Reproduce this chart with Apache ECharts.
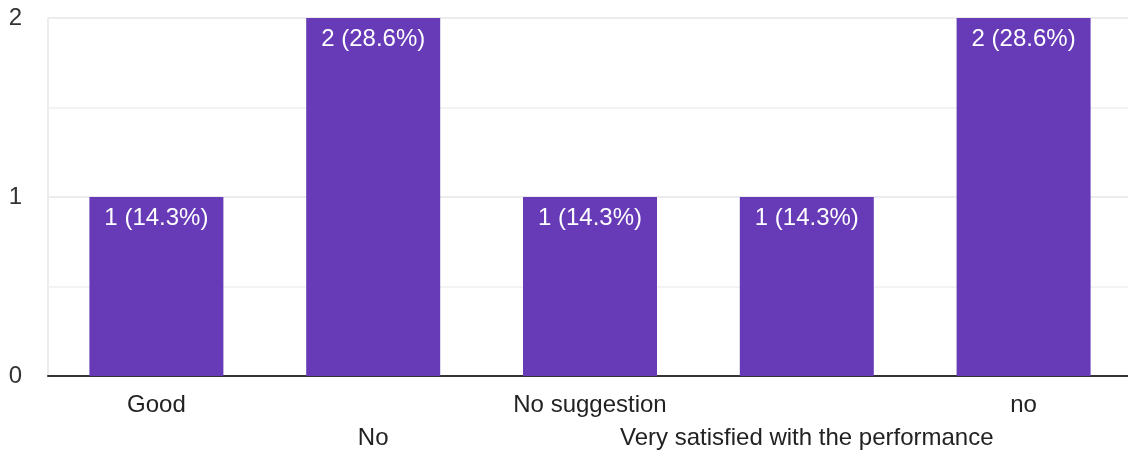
<!DOCTYPE html>
<html><head><meta charset="utf-8">
<script src="https://cdn.jsdelivr.net/npm/echarts@6/dist/echarts.min.js"></script>
<style>html,body{margin:0;padding:0;background:#fff}#c{width:1128px;height:452px}</style>
</head><body><div id="c"></div>
<script>
const categories = ["Good", "No", "No suggestion", "Very satisfied with the performance", "no"];
const counts = [1, 2, 1, 1, 2];
const percents = ["14.3%", "28.6%", "14.3%", "14.3%", "28.6%"];
const yTicks = [0, 1, 2];

const FONT = '"Liberation Sans", Arial, sans-serif';
const chart = echarts.init(document.getElementById('c'));
chart.setOption({
  animation: false,
  grid: {left: 48, right: -4, top: 18, bottom: 76, containLabel: false, outerBoundsMode: 'none'},
  xAxis: {
    type: 'category', data: categories,
    axisLine: {lineStyle: {color: '#333', width: 2}},
    axisTick: {show: false},
    axisLabel: {
      interval: 0, fontFamily: FONT, fontSize: 24, color: '#222', margin: 13, lineHeight: 33,
      hideOverlap: false,
      formatter: (v, i) => (i % 2 ? '\n' + v : v)
    }
  },
  yAxis: {
    type: 'value', min: 0, max: 2, interval: 1,
    axisLine: {show: true, lineStyle: {color: '#ececec', width: 2}},
    axisTick: {show: false},
    axisLabel: {fontFamily: FONT, fontSize: 24, color: '#333', margin: 26,
      formatter: v => (yTicks.includes(v) ? String(v) : '')},
    splitLine: {lineStyle: {color: '#ececec', width: 2}},
    minorTick: {show: false, splitNumber: 2},
    minorSplitLine: {show: true, lineStyle: {color: '#f3f3f3', width: 2}}
  },
  series: [{
    type: 'bar', data: counts, barWidth: 134,
    itemStyle: {color: '#673ab7'},
    label: {show: true, position: 'insideTop', distance: 9, color: '#fff',
      fontFamily: FONT, fontSize: 24,
      formatter: p => p.value + ' (' + percents[p.dataIndex] + ')'}
  }]
});
</script></body></html>
